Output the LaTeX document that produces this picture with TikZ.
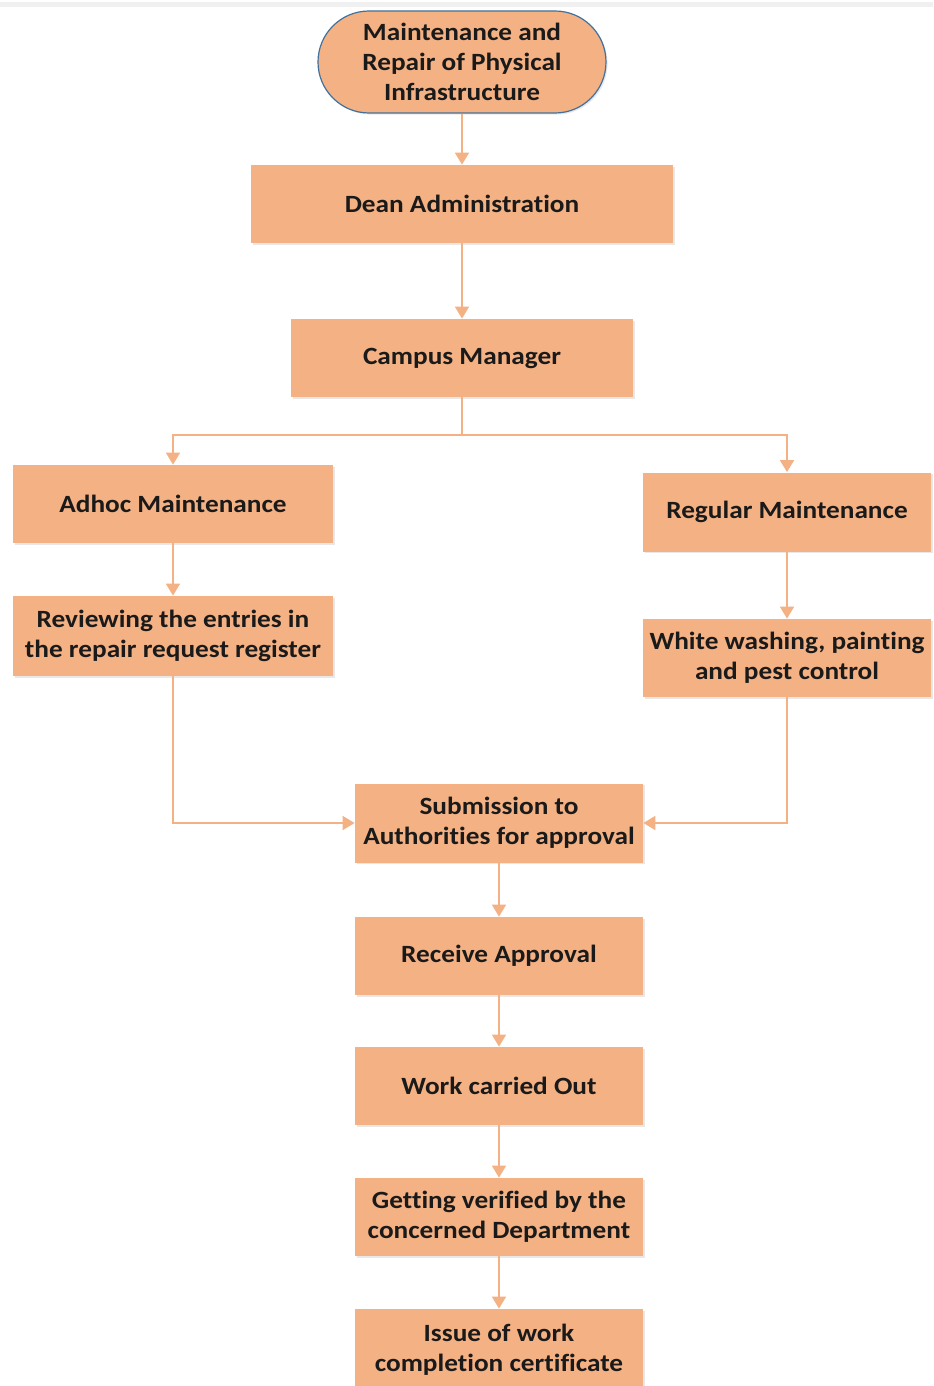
\documentclass[tikz,border=0pt]{standalone}
\usepackage{fontspec}
\setmainfont{Carlito}[FakeStretch=1.1,Ligatures=NoCommon]
\usetikzlibrary{arrows.meta,shadows}
\definecolor{boxfill}{HTML}{F4B183}
\definecolor{lineor}{HTML}{F4B183}
\definecolor{termborder}{HTML}{41719C}
\definecolor{txt}{HTML}{1A1A1A}
\tikzset{
  boxbase/.style={fill=boxfill, inner sep=0pt, align=center, text=txt,
    font=\fontsize{12.4}{15}\selectfont\bfseries,
    drop shadow={shadow xshift=0.8pt, shadow yshift=-0.8pt, opacity=0.18, fill=gray}},
  procbox/.style={boxbase, rectangle, minimum width=144pt, minimum height=39pt},
  termbox/.style={boxbase, rectangle, rounded corners=25.5pt, draw=termborder, line width=0.6pt,
    minimum width=144pt, minimum height=51pt},
  conn/.style={draw=lineor, line width=0.9pt},
  arr/.style={conn, -{Triangle[width=7pt,length=6pt]}}
}
\begin{document}
\begin{tikzpicture}[x=0.5pt,y=-0.5pt]
\useasboundingbox (0,0) rectangle (933,1386);
\fill[white] (0,0) rectangle (933,1386);
\fill[gray!12] (0,2) rectangle (933,7);

\node[termbox] (top) at (462,62) {Maintenance and\\Repair of Physical\\Infrastructure};
\node[procbox, minimum width=211pt] (dean) at (462,204) {Dean Administration};
\node[procbox, minimum width=171pt] (campus) at (462,358) {Campus Manager};
\node[procbox, minimum width=160pt] (adhoc) at (173,504) {Adhoc Maintenance};
\node[procbox, minimum height=39.5pt] (regular) at (787,512) {Regular Maintenance};
\node[procbox, minimum width=160pt, minimum height=40pt] (review) at (173,636) {Reviewing the entries in\\the repair request register};
\node[procbox] (white) at (787,658) {White washing, painting\\and pest control};
\node[procbox, minimum height=39.5pt] (sub) at (499,823) {Submission to\\Authorities for approval};
\node[procbox] (recv) at (499,956) {Receive Approval};
\node[procbox] (work) at (499,1086) {Work carried Out};
\node[procbox] (verify) at (499,1217) {Getting verified by the\\concerned Department};
\node[procbox, minimum height=41pt] (issue) at (499,1350) {Issue of work\\completion certificate};

\coordinate (split) at (462,435);

\draw[arr] (top) -- (dean);
\draw[arr] (dean) -- (campus);
\draw[conn] (campus) -- (split);
\draw[arr] (split) -| (adhoc);
\draw[arr] (split) -| (regular);
\draw[arr] (adhoc) -- (review);
\draw[arr] (regular) -- (white);
\draw[arr] (review) |- (sub);
\draw[arr] (white) |- (sub);
\draw[arr] (sub) -- (recv);
\draw[arr] (recv) -- (work);
\draw[arr] (work) -- (verify);
\draw[arr] (verify) -- (issue);
\end{tikzpicture}
\end{document}
